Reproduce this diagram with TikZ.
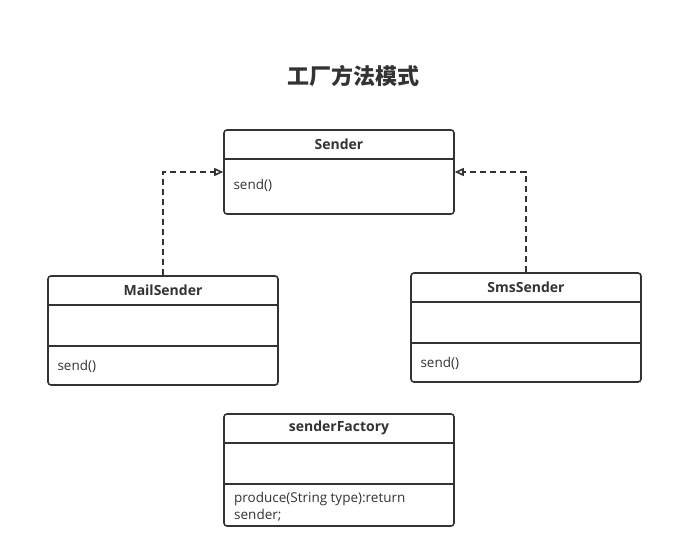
\documentclass[tikz,border=0pt]{standalone}
\usepackage{fontspec}
\setmainfont{Open Sans}
\newfontfamily\cjk{Noto Sans CJK SC}
\usetikzlibrary{arrows.meta,positioning}
\definecolor{line3}{HTML}{333333}

\begin{document}
\begin{tikzpicture}[x=1pt, y=-1pt, >={Triangle[open,length=9pt,width=8pt]},
    every node/.style={text=line3, font=\fontsize{13.5}{16.5}\selectfont},
    classbox/.style={draw=line3, line width=1.6pt, rounded corners=3pt, minimum width=230pt, inner sep=0pt},
    classname/.style={font=\fontsize{14}{17}\selectfont\bfseries},
    realize/.style={->, draw=line3, line width=1.6pt, dash pattern=on 6pt off 4pt}]

    \useasboundingbox[fill=white] (0,0) rectangle (673,559);

    % title
    \node[font=\cjk\fontsize{22}{26}\selectfont\bfseries] (title) at (353,76) {工厂方法模式};

    % the interface
    \node[classbox, minimum height=84pt] (sender) at (339,172) {};
    \draw[line3, line width=1.6pt] ([yshift=-30pt]sender.north west) -- ([yshift=-30pt]sender.north east);
    \node[classname] (sendername) at ([yshift=-15pt]sender.north) {Sender};
    \node[anchor=west] (sendersend) at (230,185) {send()};

    % the two implementations
    \node[classbox, minimum height=109pt] (mail) at (163,330.5) {};
    \draw[line3, line width=1.6pt] ([yshift=-30pt]mail.north west) -- ([yshift=-30pt]mail.north east);
    \draw[line3, line width=1.6pt] ([yshift=-71pt]mail.north west) -- ([yshift=-71pt]mail.north east);
    \node[classname] (mailname) at ([yshift=-15pt]mail.north) {MailSender};
    \node[anchor=west] (mailsend) at (54,366) {send()};

    \node[classbox, minimum height=109pt] (sms) at (526,327.5) {};
    \draw[line3, line width=1.6pt] ([yshift=-30pt]sms.north west) -- ([yshift=-30pt]sms.north east);
    \draw[line3, line width=1.6pt] ([yshift=-71pt]sms.north west) -- ([yshift=-71pt]sms.north east);
    \node[classname] (smsname) at ([yshift=-15pt]sms.north) {SmsSender};
    \node[anchor=west] (smssend) at (417,363) {send()};

    % the factory
    \node[classbox, minimum height=112pt] (factory) at (339,470) {};
    \draw[line3, line width=1.6pt] ([yshift=-30pt]factory.north west) -- ([yshift=-30pt]factory.north east);
    \draw[line3, line width=1.6pt] ([yshift=-71pt]factory.north west) -- ([yshift=-71pt]factory.north east);
    \node[classname] (factoryname) at ([yshift=-15pt]factory.north) {senderFactory};
    \node[anchor=north west, align=left, inner sep=0pt] (produce) at (234,492.5) {produce(String type):return\\sender;};

    % realization arrows
    \draw[realize] (mail.north) |- (sender.west);
    \draw[realize] (sms.north) |- (sender.east);

\end{tikzpicture}
\end{document}
